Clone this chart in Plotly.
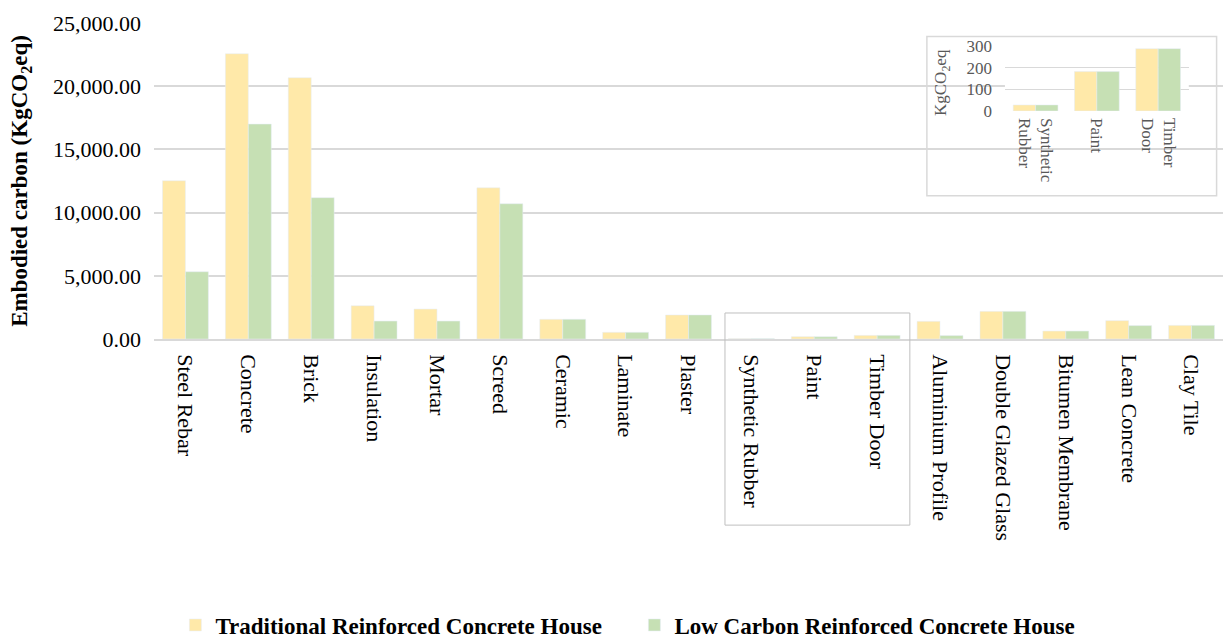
import plotly.graph_objects as go

categories = ["Steel Rebar", "Concrete", "Brick", "Insulation", "Mortar", "Screed",
              "Ceramic", "Laminate", "Plaster", "Synthetic Rubber", "Paint", "Timber Door",
              "Aluminium Profile", "Double Glazed Glass", "Bitumen Membrane",
              "Lean Concrete", "Clay Tile"]
traditional = [12520, 22570, 20670, 2630, 2370, 11960, 1560, 530, 1900,
               28, 182, 288, 1400, 2190, 630, 1450, 1080]
low_carbon = [5320, 17000, 11180, 1420, 1420, 10700, 1560, 530, 1900,
              28, 182, 288, 270, 2190, 630, 1060, 1080]

inset_categories = ["Synthetic<br>Rubber", "Paint", "Timber<br>Door"]
inset_traditional = [28, 182, 288]
inset_low_carbon = [28, 182, 288]

y_ticks = [0, 5000, 10000, 15000, 20000, 25000]
inset_ticks = [0, 100, 200, 300]

names = ["Traditional Reinforced Concrete House", "Low Carbon Reinforced Concrete House"]
YELLOW = "#FFE9A9"
GREEN = "#C6E0B4"
FONT = "Liberation Serif"
GRID = "#D9D9D9"
INSET_TXT = "#595959"

fig = go.Figure()
fig.add_trace(go.Bar(x=categories, y=traditional, name=names[0], marker_color=YELLOW,
                     xaxis="x", yaxis="y"))
fig.add_trace(go.Bar(x=categories, y=low_carbon, name=names[1], marker_color=GREEN,
                     xaxis="x", yaxis="y"))
fig.add_trace(go.Bar(x=inset_categories, y=inset_traditional, marker_color=YELLOW,
                     showlegend=False, xaxis="x2", yaxis="y2"))
fig.add_trace(go.Bar(x=inset_categories, y=inset_low_carbon, marker_color=GREEN,
                     showlegend=False, xaxis="x2", yaxis="y2"))

fig.update_layout(
    width=1226, height=643,
    margin=dict(l=154, r=3, t=23, b=304, autoexpand=False),
    plot_bgcolor="white", paper_bgcolor="white",
    font=dict(family=FONT, color="black", size=22),
    barmode="group", bargap=0.27, bargroupgap=0,
    xaxis=dict(domain=[0, 1], range=[-0.5, 16.5], tickangle=90, showgrid=False,
               showline=True, linecolor=GRID, linewidth=1.5, ticks="",
               tickfont=dict(size=22, family=FONT), ticklabelstandoff=9),
    yaxis=dict(domain=[0, 1], range=[0, 25000], tickvals=y_ticks, tickformat=",.2f",
               showgrid=True, gridcolor=GRID, gridwidth=1.5, zeroline=False,
               ticks="", tickfont=dict(size=22, family=FONT), ticklabelstandoff=12,
               title=dict(text="<b>Embodied carbon (KgCO<sub>2</sub>eq)</b>",
                          font=dict(size=23, family=FONT), standoff=18)),
    xaxis2=dict(domain=[0.796, 0.968], anchor="y2", tickangle=90, showgrid=False,
                showline=False, ticks="", tickfont=dict(size=17, family=FONT, color=INSET_TXT),
                ticklabelstandoff=6),
    yaxis2=dict(domain=[0.7215, 0.927], anchor="x2", range=[0, 300], tickvals=inset_ticks,
                showgrid=True, gridcolor=GRID, gridwidth=1.2, zeroline=False, ticks="",
                tickfont=dict(size=17, family=FONT, color=INSET_TXT), ticklabelstandoff=12),
    legend=dict(orientation="h", x=0.020, xanchor="left", yref="container", y=0.028,
                yanchor="middle",
                font=dict(size=23, family=FONT, weight="bold"),
                entrywidth=414, entrywidthmode="pixels", itemwidth=30),
    annotations=[
        dict(text="KgCO<sub>2</sub>eq", xref="paper", yref="paper",
             x=(942 - 154) / 1069, y=(339 - 83) / 316, textangle=-90, showarrow=False,
             xanchor="center", yanchor="middle",
             font=dict(size=17, family=FONT, color=INSET_TXT)),
    ],
    shapes=[
        dict(type="rect", xref="paper", yref="paper", x0=0.723, x1=0.994, y0=0.453, y1=0.957,
             line=dict(color=GRID, width=1.5), fillcolor="rgba(0,0,0,0)"),
        dict(type="rect", xref="x", yref="paper", x0=8.58, x1=11.52, y0=-0.589, y1=0.0823,
             line=dict(color="#BFBFBF", width=1), fillcolor="rgba(0,0,0,0)"),
    ],
)

fig.write_html("out.html")
